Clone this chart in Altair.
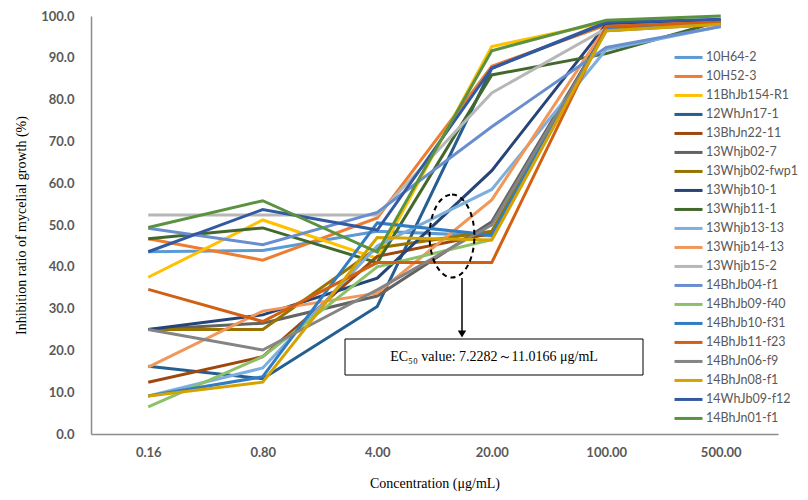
import altair as alt
import pandas as pd

concentrations = ["0.16", "0.80", "4.00", "20.00", "100.00", "500.00"]

strains = ["10H64-2", "10H52-3", "11BhJb154-R1", "12WhJn17-1", "13BhJn22-11",
           "13Whjb02-7", "13Whjb02-fwp1", "13Whjb10-1", "13Whjb11-1", "13Whjb13-13",
           "13Whjb14-13", "13Whjb15-2", "14BhJb04-f1", "14BhJb09-f40", "14BhJb10-f31",
           "14BhJb11-f23", "14BhJn06-f9", "14BhJn08-f1", "14WhJb09-f12", "14BhJn01-f1"]

colors = ["#5B9BD5", "#ED7D31", "#FFC000", "#255E91", "#9E480E",
          "#636363", "#997300", "#264478", "#43682B", "#7CAFDD",
          "#F1975A", "#B7B7B7", "#698ED0", "#8CC168", "#327DC2",
          "#D26012", "#848484", "#D4A300", "#335AA1", "#5B9240"]

inhibition = [
    [43.6, 43.9, 48.5, 47.4, 97.0, 98.5],
    [46.7, 41.6, 51.7, 88.0, 97.8, 98.5],
    [37.5, 51.2, 42.0, 92.7, 98.5, 99.0],
    [16.2, 13.2, 30.5, 87.5, 98.3, 99.0],
    [12.4, 18.5, 42.5, 48.0, 97.2, 98.3],
    [25.0, 26.5, 33.0, 50.8, 96.8, 98.3],
    [25.0, 25.0, 44.5, 48.5, 96.8, 98.5],
    [25.0, 28.5, 37.3, 63.0, 98.0, 99.0],
    [46.7, 49.3, 41.0, 85.9, 91.0, 98.8],
    [9.1, 15.8, 45.0, 58.5, 92.0, 97.5],
    [16.0, 29.4, 33.7, 56.0, 97.5, 98.5],
    [52.4, 52.4, 52.4, 81.6, 97.0, 98.5],
    [49.2, 45.3, 53.0, 73.5, 92.5, 97.5],
    [6.5, 18.5, 40.0, 46.5, 96.5, 98.3],
    [9.1, 13.7, 50.5, 47.6, 97.0, 98.5],
    [34.6, 26.9, 41.0, 41.0, 97.5, 98.5],
    [25.0, 20.1, 34.5, 50.0, 96.5, 98.0],
    [9.1, 12.4, 47.0, 46.4, 96.5, 98.0],
    [43.6, 53.7, 48.8, 87.5, 98.5, 99.2],
    [49.4, 55.8, 43.5, 91.7, 99.0, 100.0],
]

annotation_text = "EC\u2085\u2080 value: 7.2282\uff5e11.0166 \u03bcg/mL"

rows = []
for i, name in enumerate(strains):
    for j, c in enumerate(concentrations):
        rows.append({"strain": name, "order": i, "conc": c, "value": inhibition[i][j]})
df = pd.DataFrame(rows)

W, H = 687, 418

lines = alt.Chart(df).mark_line(strokeWidth=3).encode(
    x=alt.X("conc:O", sort=concentrations,
            scale=alt.Scale(type="point", padding=0.5),
            axis=alt.Axis(title="Concentration (\u03bcg/mL)", labelAngle=0,
                          labelFont="Lato", labelFontWeight="bold", labelFontSize=13,
                          labelColor="#595959", labelPadding=12, ticks=False,
                          domainColor="#8c8c8c", domainWidth=1.5,
                          titleFont="Liberation Serif", titleFontWeight="normal",
                          titleFontSize=14, titleColor="#000000", titlePadding=17)),
    y=alt.Y("value:Q", scale=alt.Scale(domain=[0, 100], nice=False),
            axis=alt.Axis(title="Inhibition ratio of mycelial growth (%)",
                          values=list(range(0, 101, 10)), format=".1f",
                          labelFont="Lato", labelFontWeight="bold", labelFontSize=13,
                          labelColor="#595959", labelPadding=17, ticks=False, grid=False,
                          domainColor="#8c8c8c", domainWidth=1.5,
                          titleFont="Liberation Serif", titleFontWeight="normal",
                          titleFontSize=14, titleColor="#000000", titlePadding=12)),
    color=alt.Color("strain:N", sort=strains,
                    scale=alt.Scale(domain=strains, range=colors),
                    legend=alt.Legend(title=None, orient="none", legendX=582, legendY=32,
                                      symbolType="stroke", symbolSize=784,
                                      symbolStrokeWidth=3, clipHeight=18.9, rowPadding=0,
                                      labelFont="Lato", labelFontSize=12.5,
                                      labelColor="#595959", labelOffset=2,
                                      padding=0)),
    order=alt.Order("order:Q"),
)

one = pd.DataFrame({"k": [0]})

ellipse = alt.Chart(one).mark_point(
    shape="M 0 -1 A 0.54 1 0 1 1 0 1 A 0.54 1 0 1 1 0 -1 Z",
    filled=False, stroke="#000000", strokeWidth=2, strokeDash=[5, 4], opacity=1,
).encode(x=alt.value(361), y=alt.value(220), size=alt.value(6889))

arrow = alt.Chart(one).mark_rule(color="#000000", strokeWidth=1.5).encode(
    x=alt.value(371), y=alt.value(262), y2=alt.value(318))

arrow_head = alt.Chart(one).mark_point(shape="triangle-down", filled=True,
                                       color="#000000", opacity=1).encode(
    x=alt.value(371), y=alt.value(318), size=alt.value(70))

box = alt.Chart(one).mark_rect(fill="#ffffff", stroke="#000000", strokeWidth=1).encode(
    x=alt.value(254), x2=alt.value(552), y=alt.value(323), y2=alt.value(359))

label = alt.Chart(one).mark_text(font="Liberation Serif", fontSize=14,
                                 color="#000000").encode(
    x=alt.value(403), y=alt.value(341), text=alt.value(annotation_text))

chart = alt.layer(lines, ellipse, arrow, arrow_head, box, label).properties(
    width=W, height=H,
    autosize=alt.AutoSizeParams(type="none"),
    padding={"left": 83, "top": 8, "right": 22, "bottom": 58},
).configure_view(stroke=None)

chart.save("out.html", embed_options={"renderer": "svg", "actions": False})
